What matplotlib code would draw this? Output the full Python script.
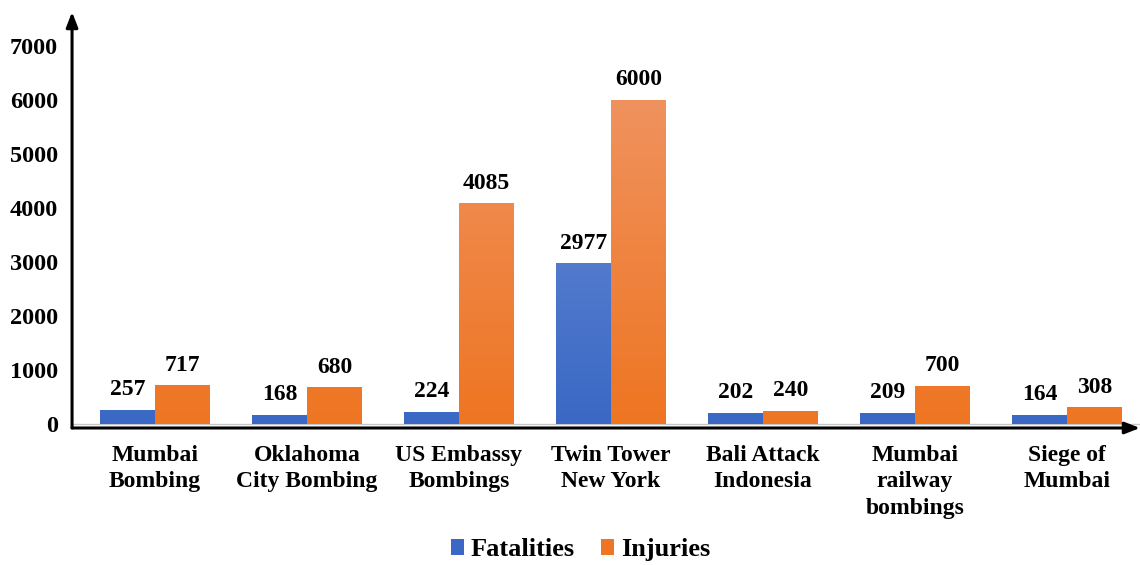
import matplotlib.pyplot as plt
import numpy as np
from matplotlib.colors import LinearSegmentedColormap

# Fatalities and injuries for major attacks
CATEGORIES = ['Mumbai\nBombing', 'Oklahoma\nCity Bombing', 'US Embassy\nBombings',
              'Twin Tower\nNew York', 'Bali Attack\nIndonesia', 'Mumbai\nrailway\nbombings',
              'Siege of\nMumbai']
FATALITIES = [257, 168, 224, 2977, 202, 209, 164]
INJURIES = [717, 680, 4085, 6000, 240, 700, 308]
Y_TICKS = [0, 1000, 2000, 3000, 4000, 5000, 6000, 7000]

BLUE_TOP, BLUE_BOTTOM = '#6a8dd6', '#3a68c4'
ORANGE_TOP, ORANGE_BOTTOM = '#f0925e', '#ee7522'

plt.rcParams['font.family'] = ['Liberation Serif', 'DejaVu Serif']
plt.rcParams['font.weight'] = 'bold'

fig = plt.figure(figsize=(11.4, 5.65), dpi=100)
ax = fig.add_axes([0.0632, 0.2425, 0.9368, 0.7363])

x = np.arange(len(CATEGORIES))
width = 0.36
ymin, ymax = -74, 7630


def gradient_bars(xs, heights, top, bottom, label):
    bars = ax.bar(xs, heights, width, color=bottom, label=label, zorder=2)
    cmap = LinearSegmentedColormap.from_list('g', [bottom, top])
    grad = np.linspace(0, 1, 256).reshape(-1, 1)
    for b in bars:
        bx, by = b.get_x(), b.get_y()
        bw, bh = b.get_width(), b.get_height()
        # gradient strength relative to the tallest bar so short bars stay solid
        hi = min(1.0, bh / 6000)
        img = ax.imshow(grad * hi, cmap=cmap, vmin=0, vmax=1,
                        extent=[bx, bx + bw, by, by + bh], origin='lower',
                        aspect='auto', zorder=3)
        img.set_clip_path(b)
    return bars


b1 = gradient_bars(x - width / 2, FATALITIES, BLUE_TOP, BLUE_BOTTOM, 'Fatalities')
b2 = gradient_bars(x + width / 2, INJURIES, ORANGE_TOP, ORANGE_BOTTOM, 'Injuries')

for bars, vals in ((b1, FATALITIES), (b2, INJURIES)):
    for bar, v in zip(bars, vals):
        ax.annotate(f'{v}', (bar.get_x() + bar.get_width() / 2, v),
                    xytext=(0, 7), textcoords='offset points',
                    ha='center', va='bottom', fontsize=17, fontweight='bold')

ax.set_xlim(-0.546, 6.48)
ax.set_ylim(ymin, ymax)
ax.set_yticks(Y_TICKS)
ax.set_yticklabels([str(t) for t in Y_TICKS], fontsize=17.5, fontweight='bold')
ax.set_xticks(x)
ax.set_xticklabels(CATEGORIES, fontsize=17, fontweight='bold', linespacing=1.35)
ax.tick_params(axis='both', length=0)
ax.tick_params(axis='y', pad=10)
ax.tick_params(axis='x', pad=12)
for s in ax.spines.values():
    s.set_visible(False)

# thin baseline under the bars
ax.axhline(0, color='#c8c8c8', lw=1, zorder=1)

# arrowed axes
ax.annotate('', xy=(1.0, 0), xytext=(0, 0), xycoords='axes fraction',
            arrowprops=dict(arrowstyle='-|>,head_length=0.9,head_width=0.35',
                            color='black', lw=2.2, shrinkA=0, shrinkB=0))
ax.annotate('', xy=(0, 1.0), xytext=(0, 0), xycoords='axes fraction',
            arrowprops=dict(arrowstyle='-|>,head_length=0.9,head_width=0.35',
                            color='black', lw=2.2, shrinkA=0, shrinkB=0))

leg = fig.legend(handles=[b1, b2], labels=['Fatalities', 'Injuries'],
                 loc='center', bbox_to_anchor=(0.509, 0.027), ncol=2, frameon=False,
                 prop={'size': 19, 'weight': 'bold'}, handlelength=0.5,
                 handleheight=0.55, handletextpad=0.25, columnspacing=1.0)

fig.savefig('out.png', dpi=100)
